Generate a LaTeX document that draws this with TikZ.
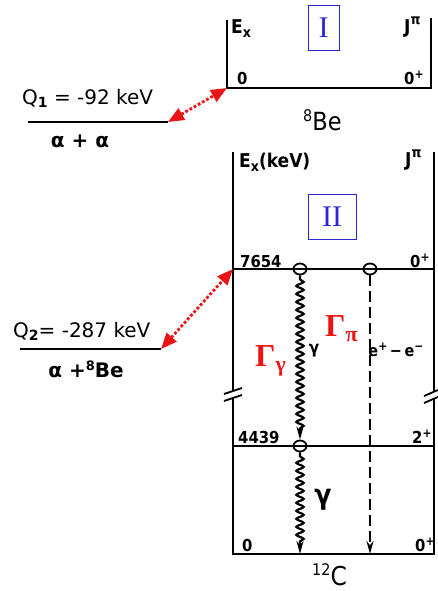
\documentclass[tikz,border=0pt]{standalone}
\usepackage{fontspec}
\usetikzlibrary{arrows.meta,decorations.pathmorphing,shapes.geometric}
\newfontfamily\qfont{DejaVu Sans}
\newfontfamily\lfont{DejaVu Sans Condensed}
\newfontfamily\sfont{Liberation Serif}
\definecolor{myred}{RGB}{235,20,20}
\definecolor{myblue}{RGB}{40,40,215}
\newcommand{\lsz}[1]{\fontsize{#1}{#1}\selectfont}
\begin{document}
\begin{tikzpicture}[x=1pt,y=-1pt,
  lvl/.style={line width=2pt},
  lbl/.style={inner sep=0pt, anchor=base west, font=\lfont\bfseries\lsz{16.5}},
  qtxt/.style={inner sep=0pt, font=\qfont\lsz{20}},
  qline/.style={line width=2pt},
  redarrow/.style={myred, line width=2.8pt, dash pattern=on 2.8pt off 2pt,
    {Triangle[length=16pt,width=13pt]}-{Triangle[length=16pt,width=13pt]}},
  romanbox/.style={draw=myblue, line width=1pt, text=myblue, font=\sfont\lsz{30}, inner sep=0pt},
  circ/.style={draw, line width=1.8pt, ellipse, minimum width=13pt, minimum height=11pt, inner sep=0pt},
  wavy/.style={decorate, decoration={snake, amplitude=3.6pt, segment length=8pt, pre length=4pt, post length=11pt}, line width=2.2pt},
  tip/.style={-{Stealth[length=13pt,width=7pt]}},
  gam/.style={myred, inner sep=0pt, anchor=base west, font=\sfont\bfseries\lsz{32}}
]
\useasboundingbox (0,0) rectangle (438,591);

% ---------- Panel I : 8Be ----------
\coordinate (aTL) at (227,20);
\coordinate (aBL) at (227,88);
\coordinate (aBR) at (431,88);
\coordinate (aTR) at (431,18);
\draw[lvl] (aTL) -- (aBL) -- (aBR) -- (aTR);
\node[lbl, font=\lfont\bfseries\lsz{19}] (aEx) at (231,34) {E\raisebox{-4pt}{\lsz{14}x}};
\node[lbl, font=\lfont\bfseries\lsz{19}] (aJ) at (404,34) {J\raisebox{9pt}{\lsz{14}π}};
\node[romanbox, minimum width=31pt, minimum height=45pt] (boxI) at (323.5,28) {I};
\node[lbl] (a0) at (237,85) {0};
\node[lbl] (a0p) at (404,85) {0\raisebox{6pt}{\lsz{12}+}};
\node[lbl, font=\lfont\lsz{25}] (be8) at (303,130) {\raisebox{9pt}{\lsz{16}8}Be};

% ---------- Q1 ----------
\coordinate (q1L) at (28,122);
\coordinate (q1R) at (168,122);
\draw[qline] (q1L) -- (q1R);
\node[qtxt, anchor=base west] (q1t) at (22,105) {Q\raisebox{-3pt}{\bfseries\lsz{14}1} = -92 keV};
\node[qtxt, font=\qfont\bfseries\lsz{20}] (q1b) at (80,141) {α + α};
\draw[redarrow] (q1R) -- (aBL);

% ---------- Panel II : 12C ----------
\coordinate (bTL) at (233,152);
\coordinate (bB1) at (233,391);
\coordinate (bB2) at (233,399);
\coordinate (bBL) at (233,554);
\coordinate (bTR) at (434,152);
\coordinate (bR1) at (434,391);
\coordinate (bR2) at (434,399);
\coordinate (bBR) at (434,554);
\draw[lvl] (bTL) -- (bB1);
\draw[lvl] (bB2) -- (bBL) -- (bBR) -- (bR2);
\draw[lvl] (bR1) -- (bTR);
% break marks
\draw[line width=1.8pt] (224,394) -- (242,388);
\draw[line width=1.8pt] (224,401) -- (242,395);
\draw[line width=1.8pt] (424,396) -- (438,390);
\draw[line width=1.8pt] (424,403) -- (438,397);

\node[lbl, font=\lfont\bfseries\lsz{19}] (bEx) at (239,167) {E\raisebox{-4pt}{\lsz{14}x}(keV)};
\node[lbl, font=\lfont\bfseries\lsz{19}] (bJ) at (405,166) {J\raisebox{9pt}{\lsz{14}π}};
\node[romanbox, minimum width=48pt, minimum height=45pt] (boxII) at (332,217) {II};

% levels
\coordinate (l1L) at (233,269);
\coordinate (l1R) at (434,269);
\coordinate (l2L) at (233,446);
\coordinate (l2R) at (434,446);
\draw[lvl] (l1L) -- (l1R);
\draw[lvl] (l2L) -- (l2R);
\node[lbl] (t7654) at (240,267) {7654};
\node[lbl] (s1) at (410,267) {0\raisebox{6pt}{\lsz{12}+}};
\node[lbl] (t4439) at (238,443) {4439};
\node[lbl] (s2) at (412,443) {2\raisebox{6pt}{\lsz{12}+}};
\node[lbl] (t0) at (242,551) {0};
\node[lbl] (s0) at (415,551) {0\raisebox{6pt}{\lsz{12}+}};
\node[lbl, font=\lfont\lsz{26}] (c12) at (312,585) {\raisebox{10pt}{\lsz{16}12}C};

% transitions
\node[circ] (g1) at (300,269) {};
\node[circ] (g2) at (300,446) {};
\node[circ] (e1) at (370,269) {};
\coordinate (g0) at (300,554);
\coordinate (e0) at (370,554);
\draw[wavy, tip] (g1) -- (g2);
\draw[wavy, tip] (g2) -- (g0);
\draw[line width=2pt, dash pattern=on 11pt off 5pt, tip] (e1) -- (e0);

\node[inner sep=0pt, font=\lfont\bfseries\lsz{17}] (gs) at (314,351) {γ};
\node[inner sep=0pt, font=\lfont\bfseries\lsz{28}] (gb) at (323,500) {γ};
\node[inner sep=0pt, font=\lfont\bfseries\lsz{16}] (ee) at (396,350) {e\raisebox{6pt}{\lsz{12}+}\,−\,e\raisebox{6pt}{\lsz{12}−}};

\node[gam] (Gg) at (255,366) {Γ\raisebox{-5pt}{\lsz{22}γ}};
\node[gam] (Gp) at (325,336) {Γ\raisebox{-5pt}{\lsz{22}π}};

% ---------- Q2 ----------
\coordinate (q2L) at (20,349);
\coordinate (q2R) at (161,349);
\draw[qline] (q2L) -- (q2R);
\node[qtxt, anchor=base west] (q2t) at (13,337) {Q\raisebox{-3pt}{\bfseries\lsz{14}2}= -287 keV};
\node[qtxt, font=\qfont\bfseries\lsz{20}, anchor=base] (q2b) at (86,377) {α +\raisebox{7pt}{\lsz{13}8}Be};
\draw[redarrow] (q2R) -- (l1L);
\end{tikzpicture}
\end{document}
